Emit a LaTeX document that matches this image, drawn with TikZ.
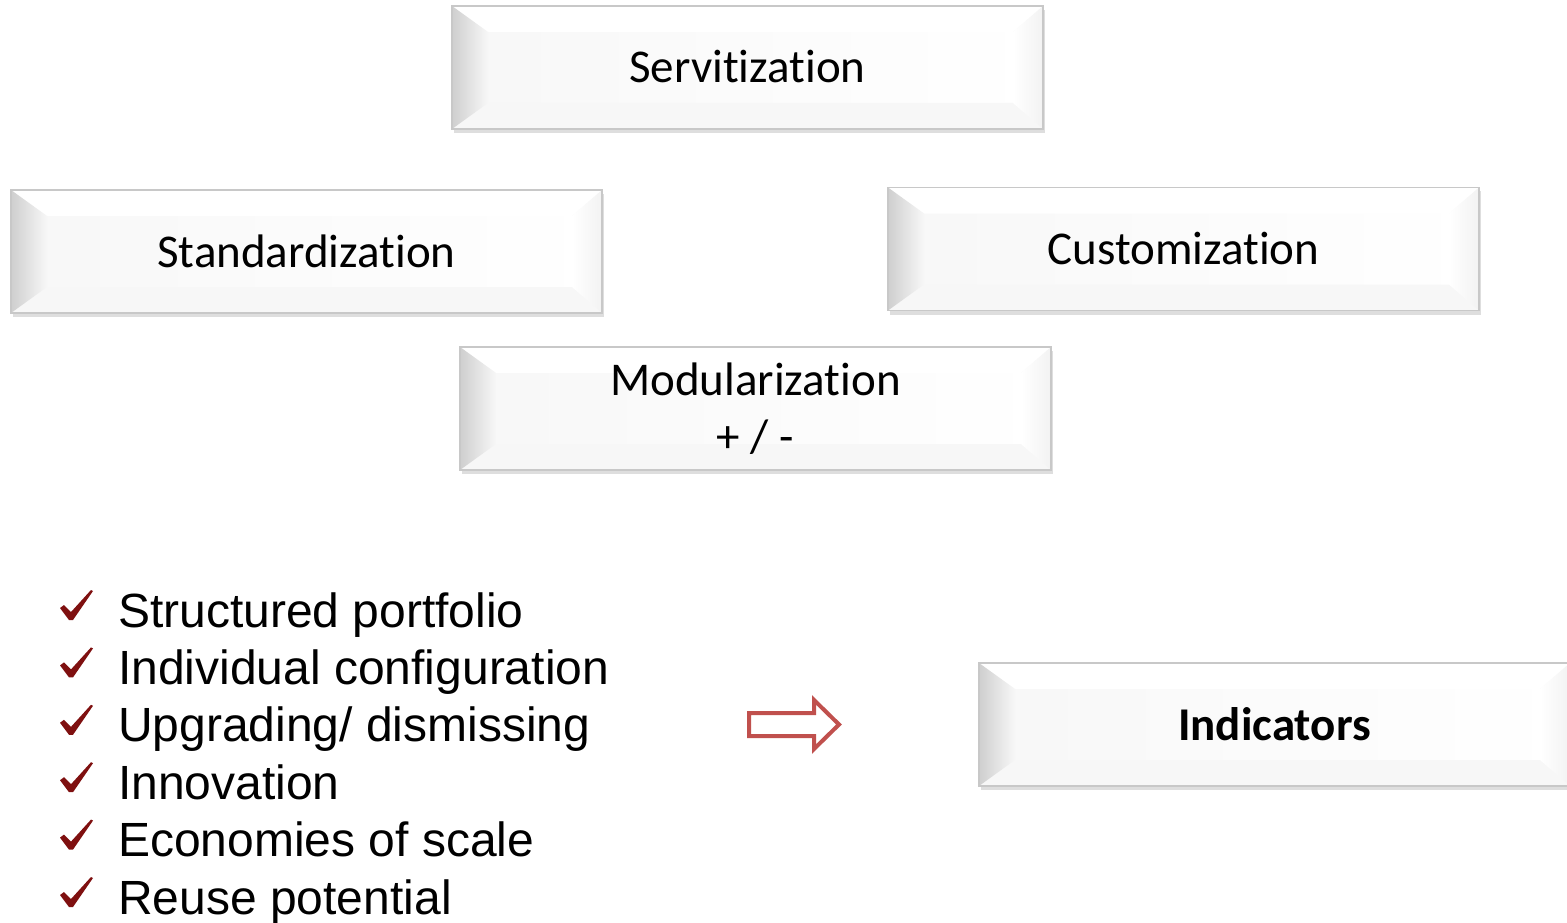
\documentclass[tikz,border=0pt]{standalone}
\usepackage{fontspec}
\setmainfont{Carlito}[Ligatures={NoCommon,NoContextual,NoRare}]
\newfontfamily\arialf{Liberation Sans}
\usetikzlibrary{calc,shadows}
\definecolor{chkred}{HTML}{7F1010}
\definecolor{arrred}{HTML}{C0504D}
\definecolor{bordergray}{HTML}{C8C8C8}
\tikzset{
  bevelbox/.style={rectangle, minimum width=591pt, minimum height=123pt, inner sep=0pt,
    draw=bordergray, line width=1.3pt, fill=black!2,
    font=\fontsize{47}{57}\selectfont, align=center,
    drop shadow={shadow xshift=1.5pt, shadow yshift=-4pt, fill=black!25},
    path picture={
      \shade[left color=black!3, right color=white] ($(path picture bounding box.north west)+(36pt,-26pt)$)
        rectangle ($(path picture bounding box.south east)+(-30pt,26pt)$);
      \fill[white] (path picture bounding box.north west) -- ++(36pt,-26pt)
        -- ($(path picture bounding box.north east)+(-30pt,-26pt)$)
        -- (path picture bounding box.north east) -- cycle;
      \fill[black!3] (path picture bounding box.south west) -- ++(36pt,26pt)
        -- ($(path picture bounding box.south east)+(-30pt,26pt)$)
        -- (path picture bounding box.south east) -- cycle;
      \shade[left color=white, right color=black!5] (path picture bounding box.north east) -- ++(-30pt,-26pt)
        -- ($(path picture bounding box.south east)+(-30pt,26pt)$)
        -- (path picture bounding box.south east) -- cycle;
      \shade[left color=black!19, right color=black!3] (path picture bounding box.north west) -- ++(36pt,-26pt)
        -- ($(path picture bounding box.south west)+(36pt,26pt)$)
        -- (path picture bounding box.south west) -- cycle;
    }},
  listitem/.style={anchor=base west, inner sep=0pt, font=\arialf\fontsize{48}{57}\selectfont},
  chk/.pic={\fill[chkred] (0,-19) -- (4,-22) -- (11,-15) -- (31,-37) -- (33,-36) -- (13,-7) -- (9,-7) -- cycle;}
}
\begin{document}
\begin{tikzpicture}[x=1pt,y=-1pt]
\clip (0,0) rectangle (1567,923);
\fill[white] (0,0) rectangle (1567,923);
\node[bevelbox, text height=31pt, text depth=0pt] (serv) at (747.5,67.5) {Servitization};
\node[bevelbox, text height=31pt, text depth=0pt] (std) at (306.5,251.5) {Standardization};
\node[bevelbox, text height=31pt, text depth=0pt] (cust) at (1183.5,249) {Customization};
\node[bevelbox] (mod) at (755.5,408.5) {Modularization\\+ / -};
\node[bevelbox, text height=31pt, text depth=0pt, font=\fontsize{47}{57}\selectfont\bfseries] (ind) at (1274.5,724.5) {Indicators};
\foreach \t [count=\i from 0] in {Structured portfolio, Individual configuration, Upgrading/ dismissing, Innovation, Economies of scale, Reuse potential}{
  \pic at (60,627+57.4*\i) {chk};
  \node[listitem] (item\i) at (118,627+57.4*\i) {\t};
}
\draw[arrred, line width=4pt, line join=miter] (749,713) -- (814,713) -- (814,700) -- (839,724.5) -- (814,749) -- (814,736) -- (749,736) -- cycle;
\end{tikzpicture}
\end{document}
